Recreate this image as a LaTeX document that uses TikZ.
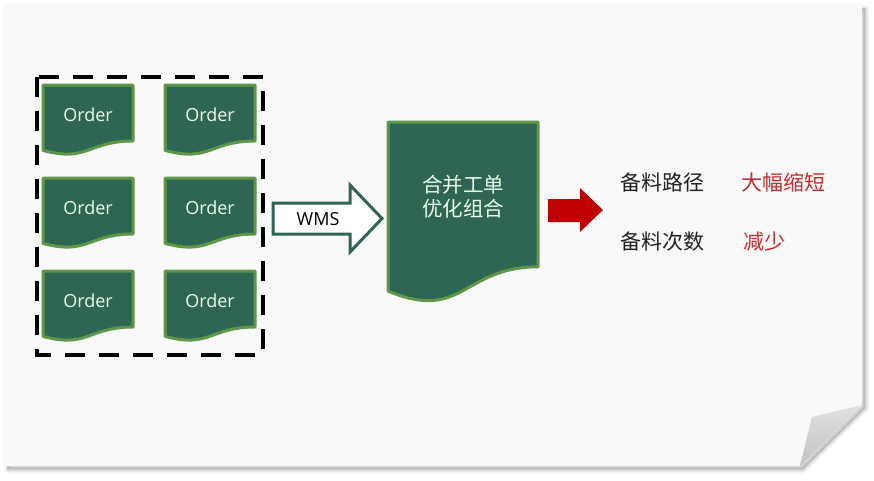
\documentclass[tikz,border=0pt]{standalone}
\usepackage{fontspec}
\setmainfont{Open Sans}
\newfontfamily\cjk{Noto Sans CJK SC}
\usetikzlibrary{shadings}
\definecolor{docfill}{RGB}{47,101,83}
\definecolor{docline}{RGB}{92,152,72}
\definecolor{pagefill}{RGB}{249,249,249}
\definecolor{redarrow}{RGB}{192,0,0}
\definecolor{redtext}{RGB}{200,44,44}
\definecolor{darktext}{RGB}{34,34,34}
\newcommand\docpath[4]{(#1,#2) -- ({#1+#3},#2) -- ({#1+#3},{#2+0.8*#4}) .. controls ({#1+0.5*#3},{#2+0.8*#4}) and ({#1+0.5*#3},{#2+1.107*#4}) .. (#1,{#2+0.934*#4}) -- cycle}
\tikzset{
  docbox/.style={fill=docfill,draw=docline,line width=3pt,line join=round},
  ordertext/.style={text=white!92!green,font=\fontsize{18}{21}\selectfont,inner sep=0pt},
  mergetext/.style={text=white!92!green,font=\cjk\fontsize{20.5}{24}\selectfont,align=center,inner sep=0pt},
  wmsarrow/.style={fill=white,draw=docfill,line width=3pt,line join=miter},
  redblock/.style={fill=redarrow,draw=none},
  infotext/.style={font=\cjk\fontsize{21}{24}\selectfont,text=darktext,anchor=west,inner sep=0pt},
  resulttext/.style={font=\cjk\fontsize{21}{24}\selectfont,text=redtext,anchor=west,inner sep=0pt},
  groupbox/.style={draw=black,line width=4pt,dash pattern=on 20pt off 14pt},
}
\newcommand\orderdoc[3]{%
  \draw[docbox] \docpath{#1}{#2}{90}{70};
  \node[ordertext] (#3) at ({#1+45},{#2+30}) {Order};
}
\begin{document}
\begin{tikzpicture}[x=1pt,y=-1pt]
\useasboundingbox (0,0) rectangle (874,480);
\fill[white] (0,0) rectangle (874,480);
% page shadow (soft)
\foreach \lw/\op in {9/0.025,7/0.03,5/0.04,3/0.05,1/0.06}{
  \draw[black,opacity=\op,line width=\lw pt,line join=round] (8,9) -- (865,9) -- (865,408) -- (803,469) -- (8,469) -- cycle;
}
\fill[black,opacity=0.12] (7,8) -- (865,8) -- (865,408) -- (803,469) -- (7,469) -- cycle;
% page
\fill[pagefill] (3,3) -- (862,3) -- (862,405) -- (800,466) -- (3,466) -- cycle;
% curled corner
\shade[left color=black!12,right color=black!24,shading angle=0] (862,405) -- (812,417) -- (800,466) -- cycle;
% group of orders
\draw[groupbox] (37,77) rectangle (263,355);
\orderdoc{43}{85}{o1}
\orderdoc{165}{85}{o2}
\orderdoc{43}{178}{o3}
\orderdoc{165}{178}{o4}
\orderdoc{43}{271}{o5}
\orderdoc{165}{271}{o6}
% WMS arrow
\draw[wmsarrow] (273,203) -- (350,203) -- (350,185) -- (382,218.5) -- (350,252) -- (350,234) -- (273,234) -- cycle;
\node[font=\fontsize{18}{21}\selectfont,inner sep=0pt] (wms) at (318,219) {WMS};
% merged document
\draw[docbox] \docpath{388}{122}{150}{181};
\node[mergetext] (merge) at (463,197) {合并工单\\优化组合};
% red arrow
\fill[redblock] (548,199) -- (580,199) -- (580,188) -- (603,210) -- (580,232) -- (580,222) -- (548,222) -- cycle;
% results
\node[infotext] (p1) at (620,182) {备料路径};
\node[resulttext] (r1) at (741,182) {大幅缩短};
\node[infotext] (p2) at (620,242) {备料次数};
\node[resulttext] (r2) at (743,242) {减少};
\end{tikzpicture}
\end{document}
